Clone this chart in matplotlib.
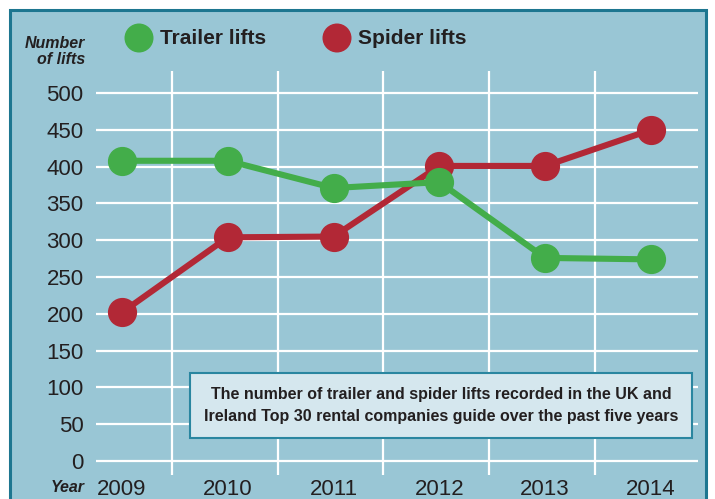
import matplotlib
matplotlib.use("Agg")
import matplotlib.pyplot as plt
from matplotlib.patches import Rectangle, Ellipse
from matplotlib.ticker import FixedLocator

years = ["2009", "2010", "2011", "2012", "2013", "2014"]
trailer_lifts = [408, 408, 371, 379, 276, 274]
spider_lifts = [202, 304, 305, 401, 401, 450]
y_ticks = [0, 50, 100, 150, 200, 250, 300, 350, 400, 450, 500]

BG = "#99c6d5"
GREEN = "#43ad4a"
RED = "#b22836"
TXT = "#231f20"
FONT = ["Liberation Sans Narrow", "Liberation Sans", "DejaVu Sans"]
plt.rcParams["font.family"] = FONT

W, H = 715, 499
fig = plt.figure(figsize=(W / 100, H / 100), dpi=100)
fig.patch.set_facecolor("white")

def fx(px):
    return px / W

def fy(py):
    return 1 - py / H

# outer panel with border
fig.patches.append(Rectangle((fx(10), fy(520)), fx(696), fy(10) - fy(520),
                             transform=fig.transFigure, facecolor=BG,
                             edgecolor="#1d7690", linewidth=2.2, zorder=-10))

ax = fig.add_axes([fx(96), fy(475), fx(698) - fx(96), fy(71) - fy(475)])
ax.set_zorder(1)
ax.set_facecolor("none")
x = list(range(len(years)))
ax.set_xlim(-0.246, 5.445)
ax.set_ylim(-19, 530)

ax.set_yticks(y_ticks)
ax.set_yticklabels([str(v) for v in y_ticks])
ax.set_xticks(x)
ax.set_xticklabels(years)
ax.xaxis.set_minor_locator(FixedLocator([i + 0.47 for i in x[:-1]]))
ax.grid(axis="y", which="major", color="white", linewidth=1.6)
ax.grid(axis="x", which="minor", color="white", linewidth=1.6)
ax.grid(axis="x", which="major", visible=False)
ax.set_axisbelow(True)
for s in ax.spines.values():
    s.set_visible(False)
ax.tick_params(axis="both", which="both", length=0, colors=TXT)
ax.tick_params(axis="y", labelsize=16, pad=9)
ax.tick_params(axis="x", labelsize=16, pad=3)

ax.plot(x, spider_lifts, color=RED, linewidth=4.4, marker="o",
        markersize=20, zorder=3, solid_capstyle="round")
ax.plot(x, trailer_lifts, color=GREEN, linewidth=4.4, marker="o",
        markersize=20, zorder=4, solid_capstyle="round")

# legend
for cx, col, lab in [(139, GREEN, "Trailer lifts"), (337, RED, "Spider lifts")]:
    fig.patches.append(Ellipse((fx(cx), fy(38)), width=29 / W, height=29 / H,
                               transform=fig.transFigure,
                               facecolor=col, edgecolor="none", zorder=5))
    fig.text(fx(cx + 21), fy(39), lab, fontsize=15, fontweight="bold",
             color=TXT, va="center", ha="left")

fig.text(fx(85), fy(43), "Number", fontsize=11.5, fontweight="bold",
         fontstyle="italic", color=TXT, ha="right", va="center")
fig.text(fx(85), fy(60), "of lifts", fontsize=11.5, fontweight="bold",
         fontstyle="italic", color=TXT, ha="right", va="center")
fig.text(fx(85), fy(488), "Year", fontsize=11.5, fontweight="bold",
         fontstyle="italic", color=TXT, ha="right", va="center")

# annotation box
fig.patches.append(Rectangle((fx(190), fy(438)), fx(502), fy(373) - fy(438),
                             transform=fig.transFigure, facecolor="#d5e7ee",
                             edgecolor="#2a86a0", linewidth=1.5, zorder=6))
fig.text(fx(441), fy(405.5),
         "The number of trailer and spider lifts recorded in the UK and\n"
         "Ireland Top 30 rental companies guide over the past five years",
         fontsize=11.5, fontweight="bold", color=TXT, ha="center", va="center",
         linespacing=1.55, zorder=7)

fig.savefig("out.png", dpi=100, facecolor=fig.get_facecolor())
